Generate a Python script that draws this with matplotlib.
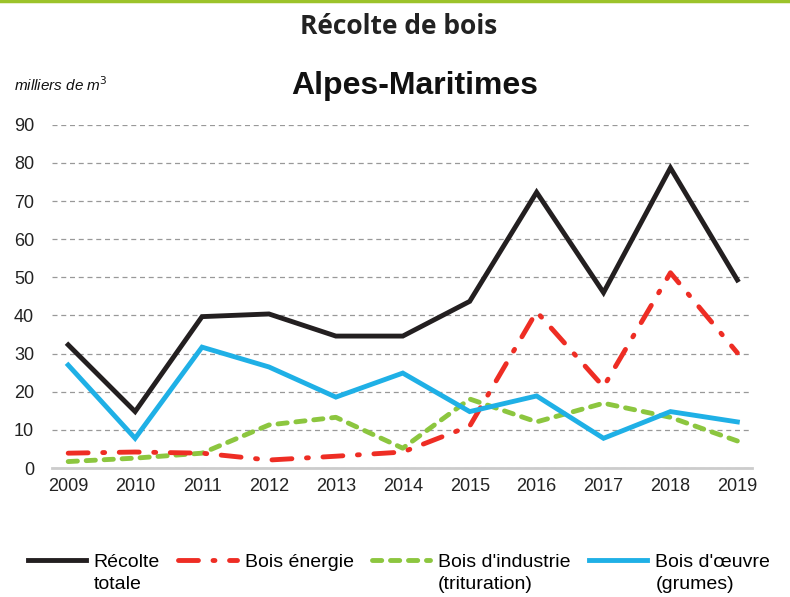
import matplotlib.pyplot as plt
from matplotlib.lines import Line2D

years = [2009, 2010, 2011, 2012, 2013, 2014, 2015, 2016, 2017, 2018, 2019]
recolte_totale = [32.3, 14.8, 39.7, 40.4, 34.6, 34.6, 43.7, 72.3, 46.0, 78.7, 49.3]
bois_energie = [3.9, 4.2, 3.9, 2.1, 3.1, 4.2, 11.0, 41.0, 21.3, 51.2, 30.2]
bois_industrie = [1.7, 2.6, 3.9, 11.3, 13.3, 5.2, 18.1, 12.1, 17.0, 13.3, 7.1]
bois_oeuvre = [27.0, 7.8, 31.7, 26.5, 18.6, 24.9, 14.8, 18.9, 7.8, 14.8, 12.1]
yticks = [0, 10, 20, 30, 40, 50, 60, 70, 80, 90]
labels_l1 = ['Récolte', 'Bois énergie', "Bois d'industrie", "Bois d'œuvre"]
labels_l2 = ['totale', '', '(trituration)', '(grumes)']

fig = plt.figure(figsize=(7.9, 5.97), dpi=100)
ax = fig.add_axes([0.066, 0.216, 0.886, 0.575])

# top green rule
fig.add_artist(Line2D([0, 1], [0.998, 0.998], color='#9cc32a', lw=2.5, transform=fig.transFigure))

lw = 3.5
ax.plot(years, recolte_totale, color='#231f20', lw=lw, solid_joinstyle='miter',
        label=labels_l1[0], zorder=5)
ax.plot(years, bois_energie, color='#ee2d24', lw=lw, dashes=(4.1, 3.0, 0.4, 3.0),
        dash_capstyle='round', label=labels_l1[1], zorder=4)
ax.plot(years, bois_industrie, color='#8cc63f', lw=lw, dashes=(1.9, 1.8),
        dash_capstyle='round', label=labels_l1[2], zorder=3)
ax.plot(years, bois_oeuvre, color='#1fb0e6', lw=lw, solid_joinstyle='miter',
        label=labels_l1[3], zorder=4)

ax.set_xlim(2008.76, 2019.22)
ax.set_ylim(0, 90)
ax.set_xticks(years)
ax.set_yticks(yticks)
ax.tick_params(length=0, labelsize=13, colors='#222222')
ax.tick_params(axis='x', pad=7)
ax.tick_params(axis='y', pad=13)
for lab in ax.get_xticklabels() + ax.get_yticklabels():
    lab.set_family('Liberation Sans')
ax.yaxis.grid(True, color='#999999', lw=0.9, dashes=(4, 3))
ax.set_axisbelow(True)
for s in ['top', 'right', 'left']:
    ax.spines[s].set_visible(False)
ax.spines['bottom'].set_color('#cccccc')
ax.spines['bottom'].set_linewidth(2)

fig.text(0.505, 0.956, 'Récolte de bois', ha='center', va='center',
         fontsize=19, fontweight='bold', family='Open Sans', color='#222222')
fig.text(0.525, 0.856, 'Alpes-Maritimes', ha='center', va='center',
         fontsize=23, fontweight='bold', family='Liberation Sans', color='#111111')
fig.text(0.018, 0.859, 'milliers de m$^3$', ha='left', va='center',
         fontsize=11, style='italic', family='Liberation Sans', color='#111111')

leg = fig.legend(loc='center left', bbox_to_anchor=(0.035, 0.0586), ncol=4, frameon=False,
                 prop={'family': 'Liberation Sans', 'size': 14}, handlelength=3.0,
                 handletextpad=0.4, columnspacing=0.95, borderpad=0, borderaxespad=0)

# second line of the legend labels, under the first one
fig.canvas.draw()
inv = fig.transFigure.inverted()
for txt, second in zip(leg.get_texts(), labels_l2):
    if not second:
        continue
    bb = txt.get_window_extent()
    x, y = inv.transform((bb.x0, bb.y0 - 22))
    fig.text(x, y, second, ha='left', va='bottom', fontsize=14,
             family='Liberation Sans', color=txt.get_color())

fig.savefig('out.png', dpi=100)
